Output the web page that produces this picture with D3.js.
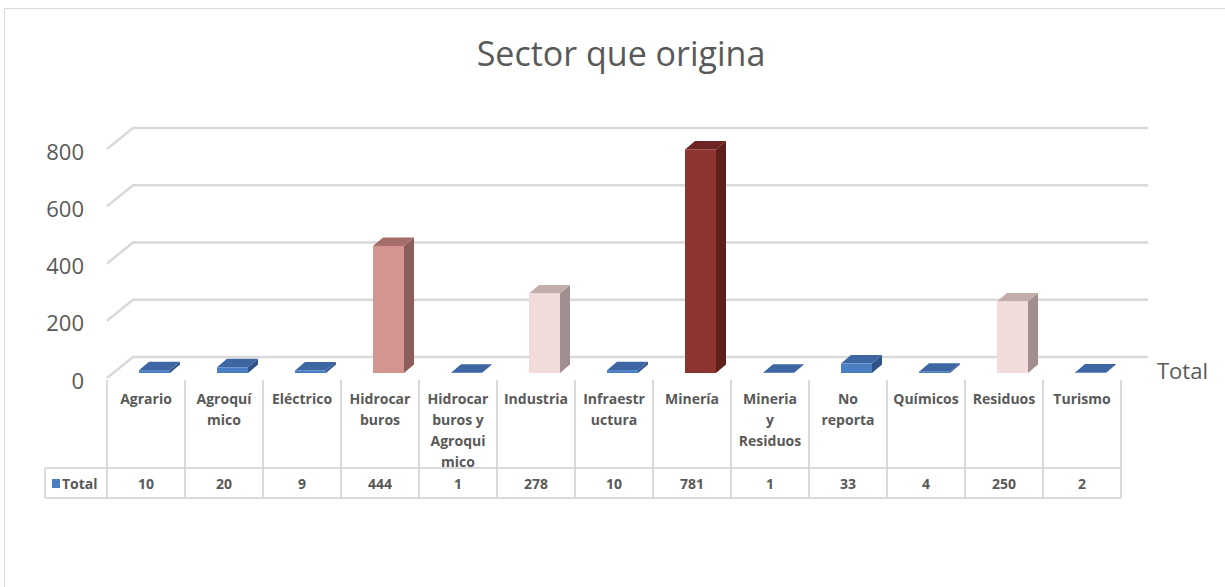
<!DOCTYPE html>
<html>
<head>
<meta charset="utf-8">
<script src="https://cdn.jsdelivr.net/npm/d3@7"></script>
<style>
  body { margin: 0; background: #fff; }
  svg { display: block; }
</style>
</head>
<body>
<script>
var width = 1225;
var height = 587;

// data
var categories = ["Agrario", "Agroquímico", "Eléctrico", "Hidrocarburos", "Hidrocarburos y Agroquimico",
    "Industria", "Infraestructura", "Minería", "Mineria y Residuos", "No reporta", "Químicos", "Residuos", "Turismo"];
var labelLines = [["Agrario"], ["Agroquí", "mico"], ["Eléctrico"], ["Hidrocar", "buros"],
    ["Hidrocar", "buros y", "Agroqui", "mico"], ["Industria"], ["Infraestr", "uctura"], ["Minería"],
    ["Mineria", "y", "Residuos"], ["No", "reporta"], ["Químicos"], ["Residuos"], ["Turismo"]];
var totals = [10, 20, 9, 444, 1, 278, 10, 781, 1, 33, 4, 250, 2];
var yTicks = [0, 200, 400, 600, 800];
var seriesName = "Total";
var title = "Sector que origina";

var textColor = "#595959";
var gridColor = "#d9d9d9";

// depth of the 3d wall and of each bar
var depth = { x: 26, y: -21 };
var barDepth = { x: 10, y: -8.5 };
var barShift = { x: 8.5, y: -5 };
var barWidth = 31;

// shading per value: front, top, side
var shade = d3.scaleThreshold()
    .domain([100, 300, 500])
    .range([
        { front: "#4a7fc4", top: "#3d66a3", side: "#2f5386" },
        { front: "#f2dcdb", top: "#c2adab", side: "#a08f8e" },
        { front: "#d4948f", top: "#a66e6a", side: "#8a5e5b" },
        { front: "#8e3430", top: "#6c2522", side: "#5e1f1d" }
    ]);

var x = d3.scaleBand()
    .domain(categories)
    .range([107, 1121]);

var y = d3.scaleLinear()
    .domain([0, 800])
    .range([378, 149]);

var svg = d3.select("body").append("svg")
    .attr("width", width)
    .attr("height", height)
    .style("font-family", "'Open Sans', sans-serif");

// chart frame
svg.append("rect")
    .attr("x", 4.5).attr("y", 8.5)
    .attr("width", 1240).attr("height", 600)
    .attr("fill", "none")
    .attr("stroke", gridColor)
    .attr("stroke-width", 1);

svg.append("text")
    .attr("x", 621).attr("y", 66)
    .attr("text-anchor", "middle")
    .attr("fill", textColor)
    .style("font-size", "34px")
    .text(title);

// gridlines: slanted floor segment + back wall line
var grid = svg.append("g")
    .attr("stroke", gridColor)
    .attr("stroke-width", 2.5)
    .attr("fill", "none");

grid.selectAll("path")
    .data(yTicks)
    .enter().append("path")
    .attr("d", function(d) {
        var x0 = x.range()[0];
        var y0 = y(d);
        return "M" + x0 + "," + y0 + "L" + (x0 + depth.x) + "," + (y0 + depth.y) + "H1148";
    });

svg.append("g")
    .selectAll("text")
    .data(yTicks)
    .enter().append("text")
    .attr("x", 84)
    .attr("y", function(d) { return y(d) + 3; })
    .attr("dy", "0.35em")
    .attr("text-anchor", "end")
    .attr("fill", textColor)
    .style("font-size", "22px")
    .text(function(d) { return d; });

// bars
var bars = svg.append("g")
    .selectAll("g")
    .data(categories.map(function(c, i) { return { name: c, value: totals[i] }; }))
    .enter().append("g");

function barGeom(d) {
    var x0 = x(d.name) + x.bandwidth() / 2 + barShift.x - barWidth / 2;
    var x1 = x0 + barWidth;
    var yb = y(0) + barShift.y;
    var yt = y(d.value) + barShift.y;
    return { x0: x0, x1: x1, yb: yb, yt: yt };
}

bars.append("path")
    .attr("fill", function(d) { return shade(d.value).side; })
    .attr("d", function(d) {
        var g = barGeom(d);
        return "M" + g.x1 + "," + g.yb + "L" + (g.x1 + barDepth.x) + "," + (g.yb + barDepth.y) +
            "L" + (g.x1 + barDepth.x) + "," + (g.yt + barDepth.y) + "L" + g.x1 + "," + g.yt + "Z";
    });

bars.append("path")
    .attr("fill", function(d) { return shade(d.value).top; })
    .attr("d", function(d) {
        var g = barGeom(d);
        return "M" + g.x0 + "," + g.yt + "L" + (g.x0 + barDepth.x) + "," + (g.yt + barDepth.y) +
            "L" + (g.x1 + barDepth.x) + "," + (g.yt + barDepth.y) + "L" + g.x1 + "," + g.yt + "Z";
    });

bars.append("rect")
    .attr("fill", function(d) { return shade(d.value).front; })
    .attr("x", function(d) { return barGeom(d).x0; })
    .attr("y", function(d) { return barGeom(d).yt; })
    .attr("width", barWidth)
    .attr("height", function(d) { return barGeom(d).yb - barGeom(d).yt; });

// series name at the end of the floor
svg.append("text")
    .attr("x", 1157).attr("y", 379)
    .attr("fill", textColor)
    .style("font-size", "22px")
    .text(seriesName);

// data table
var tableTop = 380, rowSplit = 468, tableBottom = 498;
var table = svg.append("g");

var lines = table.append("g")
    .attr("stroke", gridColor)
    .attr("stroke-width", 2)
    .attr("fill", "none");

var colEdges = categories.map(function(c) { return x(c); }).concat([x.range()[1]]);
lines.selectAll("line.v")
    .data(colEdges)
    .enter().append("line")
    .attr("x1", function(d) { return d; })
    .attr("x2", function(d) { return d; })
    .attr("y1", tableTop)
    .attr("y2", tableBottom);

lines.append("path")
    .attr("d", "M45," + rowSplit + "H" + x.range()[1] + "M45," + tableBottom + "H" + x.range()[1] +
        "M45," + rowSplit + "V" + tableBottom);

table.selectAll("text.cat")
    .data(categories)
    .enter().append("text")
    .attr("class", "cat")
    .attr("text-anchor", "middle")
    .attr("fill", textColor)
    .style("font-size", "14px")
    .style("font-weight", 700)
    .each(function(c, i) {
        var t = d3.select(this);
        labelLines[i].forEach(function(line, j) {
            t.append("tspan")
                .attr("x", x(c) + x.bandwidth() / 2)
                .attr("y", 404 + j * 21)
                .text(line);
        });
    });

table.selectAll("text.val")
    .data(totals)
    .enter().append("text")
    .attr("class", "val")
    .attr("x", function(d, i) { return x(categories[i]) + x.bandwidth() / 2; })
    .attr("y", 489)
    .attr("text-anchor", "middle")
    .attr("fill", textColor)
    .style("font-size", "14px")
    .style("font-weight", 700)
    .text(function(d) { return d; });

// legend key in the table
table.append("rect")
    .attr("x", 52).attr("y", 479)
    .attr("width", 8).attr("height", 9)
    .attr("fill", shade(0).front);

table.append("text")
    .attr("x", 62).attr("y", 489)
    .attr("fill", textColor)
    .style("font-size", "14px")
    .style("font-weight", 700)
    .text(seriesName);
</script>
</body>
</html>
